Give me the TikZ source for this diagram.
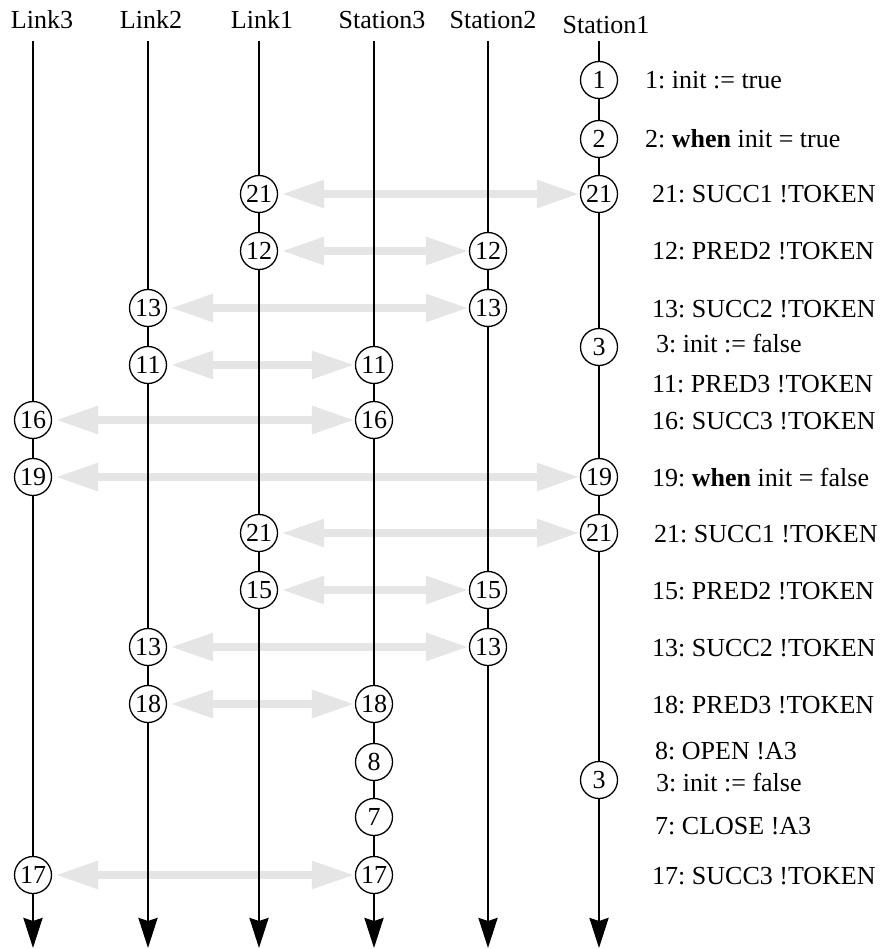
\documentclass[tikz,border=0pt]{standalone}
\usepackage{fontspec}
\setmainfont{Liberation Serif}
\usepackage{tikz}
\usetikzlibrary{arrows.meta,positioning}
\usepackage{xcolor}
\definecolor{msggray}{RGB}{229,229,229}
\frenchspacing
\pgfdeclarelayer{msglayer}
\pgfdeclarelayer{linelayer}
\pgfsetlayers{msglayer,linelayer,main}
\tikzset{
    event/.style={
        circle,
        draw,
        fill=white,
        line width=1.3pt,
        minimum size=37pt,
        inner sep=0pt
    },
    lifeline/.style={
        line width=2.6pt,
        -{Stealth[length=30pt,width=19pt,inset=3pt]}
    },
    msg/.style={
        msggray,
        line width=8.5pt,
        {Triangle[length=43pt,width=26pt]}-{Triangle[length=43pt,width=26pt]},
        shorten <=3pt
    },
    header/.style={
        anchor=base
    },
    lbl/.style={
        anchor=west,
        inner sep=0pt,
        text height=18pt,
        text depth=0pt
    }
}

\begin{document}
\begin{tikzpicture}[x=1pt,y=-1pt,font=\fontsize{26pt}{30pt}\selectfont]
    \useasboundingbox (0,0) rectangle (890,949);

    % Process names
    \node[header] (lk3name) at (42,29) {Link3};
    \node[header] (lk2name) at (151,29) {Link2};
    \node[header] (lk1name) at (262,29) {Link1};
    \node[header] (st3name) at (382,29) {Station3};
    \node[header] (st2name) at (493,29) {Station2};
    \node[header] (st1name) at (606,34) {Station1};

    % Ends of the time lines
    \coordinate (lk3top) at (33,41);  \coordinate (lk3bot) at (33,948);
    \coordinate (lk2top) at (148,41); \coordinate (lk2bot) at (148,948);
    \coordinate (lk1top) at (259,41); \coordinate (lk1bot) at (259,948);
    \coordinate (st3top) at (374,41); \coordinate (st3bot) at (374,948);
    \coordinate (st2top) at (488,41); \coordinate (st2bot) at (488,948);
    \coordinate (st1top) at (599,41); \coordinate (st1bot) at (599,948);

    % Events of Station1
    \node[event] (st1-1) at (599,80) {1};
    \node[event] (st1-2) at (599,139) {2};
    \node[event] (st1-21a) at (599,194) {21};
    \node[event] (st1-3a) at (599,347) {3};
    \node[event] (st1-19) at (599,477) {19};
    \node[event] (st1-21b) at (599,533) {21};
    \node[event] (st1-3b) at (599,780) {3};

    % Events of Station2
    \node[event] (st2-12) at (488,251) {12};
    \node[event] (st2-13a) at (488,308) {13};
    \node[event] (st2-15) at (488,590) {15};
    \node[event] (st2-13b) at (488,647) {13};

    % Events of Station3
    \node[event] (st3-11) at (374,365) {11};
    \node[event] (st3-16) at (374,420) {16};
    \node[event] (st3-18) at (374,704) {18};
    \node[event] (st3-8) at (374,762) {8};
    \node[event] (st3-7) at (374,817) {7};
    \node[event] (st3-17) at (374,875) {17};

    % Events of the links
    \node[event] (lk1-21a) at (259,194) {21};
    \node[event] (lk1-12) at (259,251) {12};
    \node[event] (lk1-21b) at (259,533) {21};
    \node[event] (lk1-15) at (259,590) {15};
    \node[event] (lk2-13a) at (148,308) {13};
    \node[event] (lk2-11) at (148,365) {11};
    \node[event] (lk2-13b) at (148,647) {13};
    \node[event] (lk2-18) at (148,704) {18};
    \node[event] (lk3-16) at (33,420) {16};
    \node[event] (lk3-19) at (33,477) {19};
    \node[event] (lk3-17) at (33,875) {17};

    % Time lines
    \begin{pgfonlayer}{linelayer}
        \draw[lifeline] (lk3top) -- (lk3bot);
        \draw[lifeline] (lk2top) -- (lk2bot);
        \draw[lifeline] (lk1top) -- (lk1bot);
        \draw[lifeline] (st3top) -- (st3bot);
        \draw[lifeline] (st2top) -- (st2bot);
        \draw[lifeline] (st1top) -- (st1bot);
    \end{pgfonlayer}

    % Synchronisations
    \begin{pgfonlayer}{msglayer}
        \draw[msg] (lk1-21a) -- (st1-21a);
        \draw[msg] (lk1-12) -- (st2-12);
        \draw[msg] (lk2-13a) -- (st2-13a);
        \draw[msg] (lk2-11) -- (st3-11);
        \draw[msg] (lk3-16) -- (st3-16);
        \draw[msg] (lk3-19) -- (st1-19);
        \draw[msg] (lk1-21b) -- (st1-21b);
        \draw[msg] (lk1-15) -- (st2-15);
        \draw[msg] (lk2-13b) -- (st2-13b);
        \draw[msg] (lk2-18) -- (st3-18);
        \draw[msg] (lk3-17) -- (st3-17);
    \end{pgfonlayer}

    % Actions
    \node[lbl] (t1) at (645,80) {1: init := true};
    \node[lbl] (t2) at (645,139) {2: \textbf{when} init = true};
    \node[lbl] (t21a) at (652,194) {21: SUCC1 !TOKEN};
    \node[lbl] (t12) at (652,251) {12: PRED2 !TOKEN};
    \node[lbl] (t13a) at (652,308) {13: SUCC2 !TOKEN};
    \node[lbl] (t3a) at (656,343) {3: init := false};
    \node[lbl] (t11) at (652,383) {11: PRED3 !TOKEN};
    \node[lbl] (t16) at (652,420) {16: SUCC3 !TOKEN};
    \node[lbl] (t19) at (652,477) {19: \textbf{when} init = false};
    \node[lbl] (t21b) at (654,533) {21: SUCC1 !TOKEN};
    \node[lbl] (t15) at (652,590) {15: PRED2 !TOKEN};
    \node[lbl] (t13b) at (652,647) {13: SUCC2 !TOKEN};
    \node[lbl] (t18) at (652,704) {18: PRED3 !TOKEN};
    \node[lbl] (t8) at (655,750) {8: OPEN !A3};
    \node[lbl] (t3b) at (656,782) {3: init := false};
    \node[lbl] (t7) at (655,825) {7: CLOSE !A3};
    \node[lbl] (t17) at (652,875) {17: SUCC3 !TOKEN};
\end{tikzpicture}
\end{document}
